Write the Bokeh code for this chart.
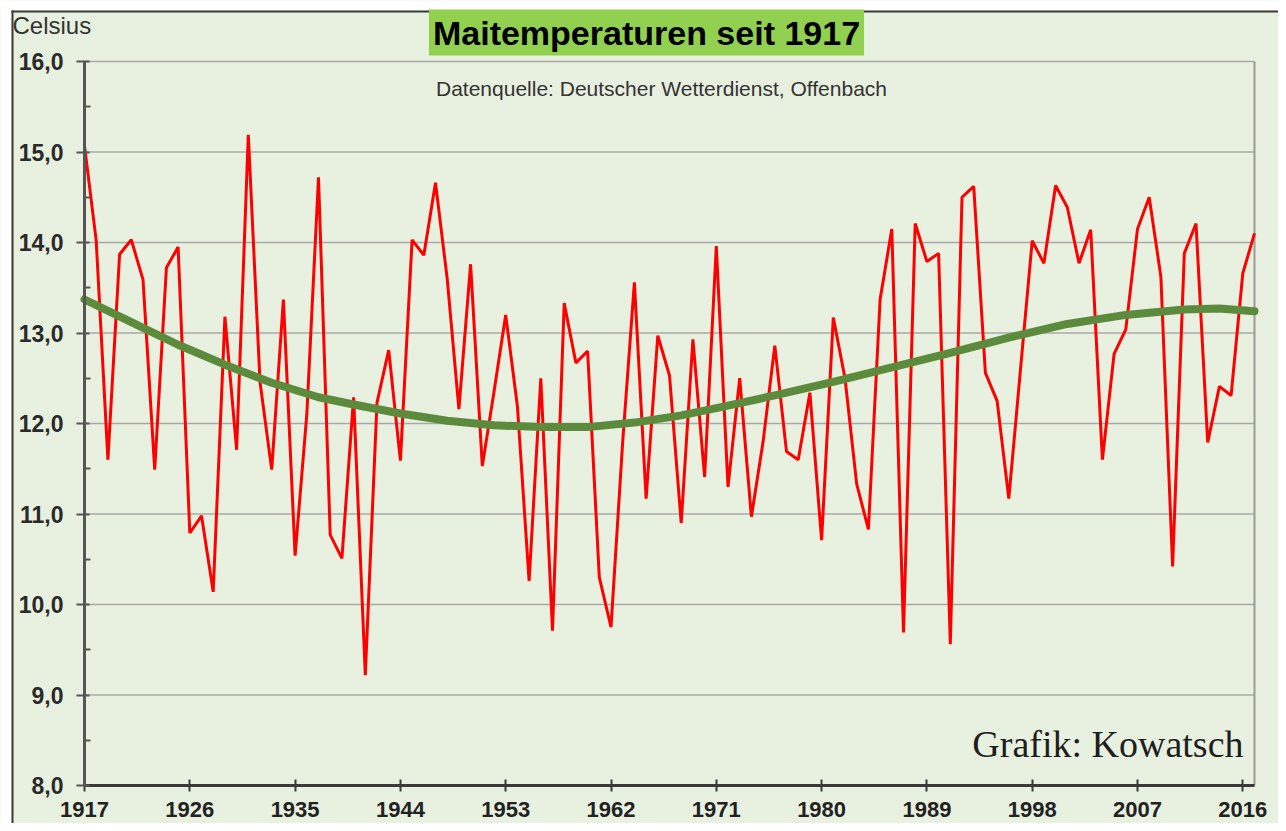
from bokeh.plotting import figure
from bokeh.models import (FixedTicker, Label, BoxAnnotation, ColumnDataSource,
                          Range1d, LinearAxis)
from bokeh.embed import file_html
from bokeh.resources import INLINE

# ---- data ----
years = list(range(1917, 2018))
may_temp = [
    15.07, 14.02, 11.60, 13.87, 14.03, 13.59, 11.49, 13.72, 13.95, 10.79,
    10.98, 10.14, 13.18, 11.71, 15.19, 12.46, 11.49, 13.37, 10.54, 12.10,
    14.72, 10.77, 10.51, 12.29, 9.22, 12.23, 12.81, 11.59, 14.03, 13.86,
    14.66, 13.60, 12.16, 13.76, 11.53, 12.35, 13.20, 12.19, 10.26, 12.50,
    9.71, 13.33, 12.67, 12.80, 10.30, 9.75, 11.80, 13.56, 11.17, 12.97,
    12.53, 10.90, 12.93, 11.41, 13.96, 11.30, 12.50, 10.97, 11.80, 12.86,
    11.69, 11.60, 12.34, 10.71, 13.17, 12.50, 11.33, 10.83, 13.37, 14.15,
    9.69, 14.21, 13.79, 13.88, 9.56, 14.50, 14.62, 12.56, 12.25, 11.17,
    12.60, 14.02, 13.77, 14.63, 14.39, 13.77, 14.14, 11.60, 12.77, 13.04,
    14.15, 14.50, 13.62, 10.42, 13.88, 14.21, 11.79, 12.41, 12.31, 13.66,
    14.10,
]

trend_years = [1917, 1921, 1925, 1929, 1933, 1937, 1940, 1944, 1948, 1952,
               1956, 1960, 1964, 1968, 1971, 1976, 1981, 1986, 1991, 1996,
               2001, 2006, 2011, 2014, 2017]
trend_vals = [13.37, 13.12, 12.87, 12.65, 12.45, 12.29, 12.21, 12.11, 12.03, 11.98,
              11.96, 11.96, 12.01, 12.09, 12.17, 12.31, 12.46, 12.62, 12.78, 12.95,
              13.10, 13.20, 13.26, 13.27, 13.24]

x_ticks = [1917, 1926, 1935, 1944, 1953, 1962, 1971, 1980, 1989, 1998, 2007, 2016]
x_tick_labels = ["1917", "1926", "1935", "1944", "1953", "1962", "1971", "1980",
                 "1989", "1998", "2007", "2016"]
y_ticks = [8, 9, 10, 11, 12, 13, 14, 15, 16]
y_tick_labels = ["8,0", "9,0", "10,0", "11,0", "12,0", "13,0", "14,0", "15,0", "16,0"]
y_minor = [8.5, 9.5, 10.5, 11.5, 12.5, 13.5, 14.5, 15.5]

title_text = "Maitemperaturen seit 1917"
source_text = "Datenquelle: Deutscher Wetterdienst, Offenbach"
credit_text = "Grafik: Kowatsch"
unit_text = "Celsius"

# ---- layout geometry (pixels) ----
W, H = 1278, 823
PLOT_LEFT, PLOT_TOP = 84, 61          # pixel position of (first year, top tick)
PXX = 11.7                            # pixels per year
PXY = 90.5                            # pixels per degree

X_START = years[0] - PLOT_LEFT / PXX
Y_TOP = y_ticks[-1] + PLOT_TOP / PXY


def px(xp):
    return X_START + xp / PXX


def py(yp):
    return Y_TOP - yp / PXY


BG = "#E8F1E0"
FONT = "Liberation Sans"

p = figure(width=W, height=H,
           x_range=Range1d(px(0), px(W)), y_range=Range1d(py(H), py(0)),
           output_backend="svg", toolbar_location=None,
           x_axis_location=None, y_axis_location=None, min_border=0,
           background_fill_color=BG, border_fill_color=BG, outline_line_color=None)
p.grid.visible = False

# image frame (white margin with dark edge at top/left)
p.add_layout(BoxAnnotation(left=px(0), right=px(W), top=py(0), bottom=py(10),
                           fill_color="white", fill_alpha=1, line_color=None))
p.add_layout(BoxAnnotation(left=px(0), right=px(11), top=py(0), bottom=py(H),
                           fill_color="white", fill_alpha=1, line_color=None))
p.add_layout(BoxAnnotation(left=px(11), right=px(W), top=py(10), bottom=py(12),
                           fill_color="#3A3A3A", fill_alpha=1, line_color=None))
p.add_layout(BoxAnnotation(left=px(11), right=px(13), top=py(10), bottom=py(H),
                           fill_color="#3A3A3A", fill_alpha=1, line_color=None))

# horizontal grid lines across the plot area, and right border
n = len(y_ticks)
p.segment(x0=[years[0]] * n, x1=[years[-1]] * n, y0=y_ticks, y1=y_ticks,
          line_color="#A8A8A8", line_width=1.5)
p.segment(x0=[years[-1]], x1=[years[-1]], y0=[y_ticks[0]], y1=[y_ticks[-1]],
          line_color="#9A9A9A", line_width=2)

# axes drawn at fixed positions inside the single frame
xaxis = LinearAxis(fixed_location=y_ticks[0], bounds=(years[0], years[-1]),
                   ticker=FixedTicker(ticks=x_ticks, minor_ticks=[]))
xaxis.major_label_overrides = {t: l for t, l in zip(x_ticks, x_tick_labels)}
xaxis.axis_line_color = "#3A3A3A"
xaxis.axis_line_width = 3
xaxis.major_tick_line_color = "#3A3A3A"
xaxis.major_tick_line_width = 2
xaxis.major_tick_in = 6
xaxis.major_tick_out = 6
xaxis.minor_tick_line_color = None
xaxis.major_label_standoff = 10
xaxis.major_label_text_font = FONT
xaxis.major_label_text_font_style = "bold"
xaxis.major_label_text_font_size = "22px"
xaxis.major_label_text_color = "#222222"
p.add_layout(xaxis, "below")

yaxis = LinearAxis(fixed_location=years[0], bounds=(y_ticks[0], y_ticks[-1]),
                   ticker=FixedTicker(ticks=y_ticks, minor_ticks=y_minor))
yaxis.major_label_overrides = {t: l for t, l in zip(y_ticks, y_tick_labels)}
yaxis.axis_line_color = "#555555"
yaxis.axis_line_width = 3
yaxis.major_tick_line_color = "#555555"
yaxis.major_tick_line_width = 2
yaxis.major_tick_in = 5
yaxis.major_tick_out = 8
yaxis.minor_tick_line_color = "#555555"
yaxis.minor_tick_line_width = 2
yaxis.minor_tick_in = 6
yaxis.minor_tick_out = 0
yaxis.major_label_standoff = 13
yaxis.major_label_text_font = FONT
yaxis.major_label_text_font_style = "bold"
yaxis.major_label_text_font_size = "23px"
yaxis.major_label_text_color = "#2A2A2A"
p.add_layout(yaxis, "left")

# series
src = ColumnDataSource(dict(year=years, temp=may_temp))
p.line("year", "temp", source=src, line_color="#FF0000", line_width=3)

tsrc = ColumnDataSource(dict(year=trend_years, val=trend_vals))
p.line("year", "val", source=tsrc, line_color="#5D8B3D", line_width=8,
       line_join="round", line_cap="round")

# texts
p.add_layout(Label(x=px(646), y=py(32), text=title_text,
                   text_font=FONT, text_font_style="bold", text_font_size="34px",
                   text_color="#000000", text_align="center", text_baseline="middle",
                   background_fill_color="#92D050", padding=4))
p.add_layout(Label(x=px(12), y=py(25), text=unit_text,
                   text_font=FONT, text_font_size="24px",
                   text_color="#333333", text_align="left", text_baseline="middle"))
p.add_layout(Label(x=px(661), y=py(88), text=source_text,
                   text_font=FONT, text_font_size="21px", text_color="#333333",
                   text_align="center", text_baseline="middle"))
p.add_layout(Label(x=px(1243), y=py(743), text=credit_text,
                   text_font="Liberation Serif", text_font_size="38px",
                   text_color="#1E1E1E", text_align="right", text_baseline="middle"))

open("out.html", "w").write(file_html(p, INLINE))
